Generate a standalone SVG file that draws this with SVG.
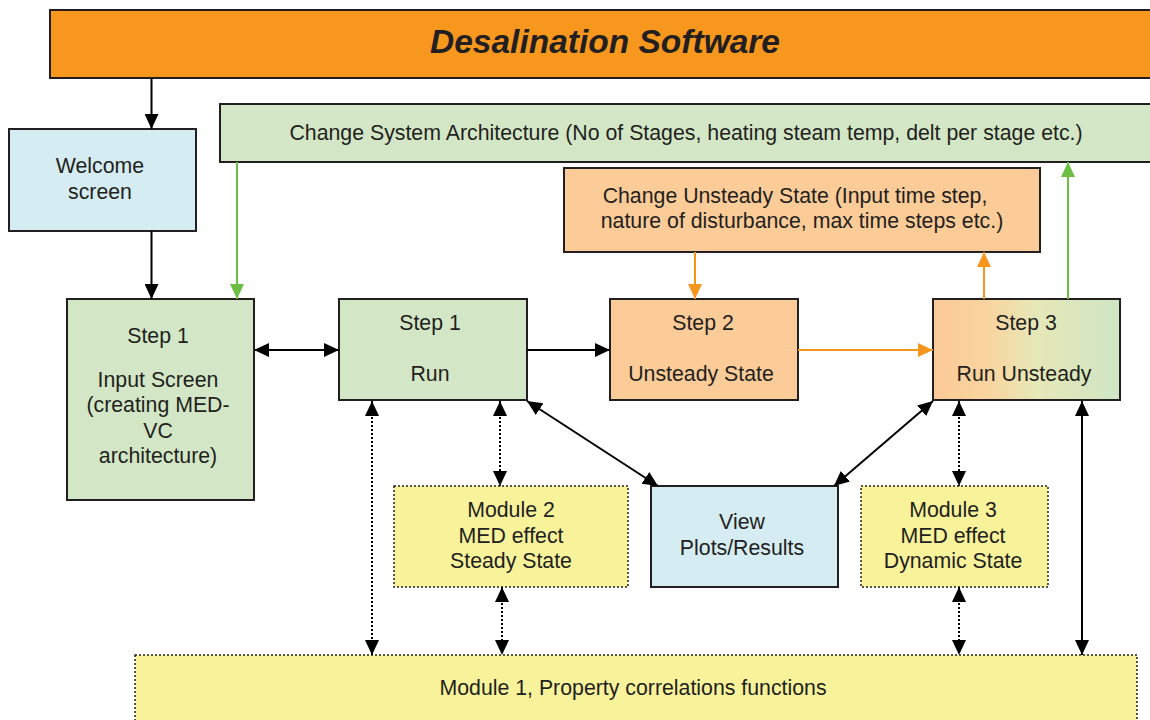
<svg xmlns="http://www.w3.org/2000/svg" width="1150" height="720" viewBox="0 0 1150 720">
<style>
text{font-family:"Liberation Sans",Arial,sans-serif;font-size:21.3px;fill:#231F20;text-anchor:middle}
.title{font-size:33.5px;font-weight:bold;font-style:italic}
.box{stroke:#231F20;stroke-width:2}
.mod{fill:#F8F39B;stroke:#231F20;stroke-width:1.5;stroke-dasharray:2 2}
.green{fill:#D3E7C7}
.blue{fill:#D5ECF3}
.orange{fill:#FBCB98}
.k{stroke:#000;stroke-width:2;fill:none}
.kd{stroke:#000;stroke-width:2;fill:none;stroke-dasharray:2 2}
.o{stroke:#F7961D;stroke-width:2;fill:none}
.g{stroke:#6CBD45;stroke-width:2;fill:none}
</style>
<defs>
<marker id="ak" viewBox="0 0 15 14" refX="15" refY="7" markerWidth="15" markerHeight="14" markerUnits="userSpaceOnUse" orient="auto-start-reverse"><path d="M0,0 L15,7 L0,14 z" fill="#000"/></marker>
<marker id="ao" viewBox="0 0 15 14" refX="15" refY="7" markerWidth="15" markerHeight="14" markerUnits="userSpaceOnUse" orient="auto-start-reverse"><path d="M0,0 L15,7 L0,14 z" fill="#F7961D"/></marker>
<marker id="ag" viewBox="0 0 15 14" refX="15" refY="7" markerWidth="15" markerHeight="14" markerUnits="userSpaceOnUse" orient="auto-start-reverse"><path d="M0,0 L15,7 L0,14 z" fill="#6CBD45"/></marker>
<linearGradient id="grad3" x1="0" y1="0" x2="1" y2="0">
<stop offset="0" stop-color="#FBCA98"/>
<stop offset="0.3" stop-color="#F9D49F"/>
<stop offset="0.55" stop-color="#E6E8B7"/>
<stop offset="1" stop-color="#CFE5C4"/>
</linearGradient>
</defs>

<g id="title">
<rect x="50" y="10" width="1115" height="68" fill="#F7971E" class="box"/>
<text x="605" y="53" class="title">Desalination Software</text>
</g>

<g id="change-system">
<rect x="220" y="104" width="945" height="58" class="box green"/>
<text x="686" y="140">Change System Architecture (No of Stages, heating steam temp, delt per stage etc.)</text>
</g>

<g id="welcome">
<rect x="9" y="129" width="187" height="102" class="box blue"/>
<text x="100" y="173">Welcome</text>
<text x="100" y="199">screen</text>
</g>

<g id="change-unsteady">
<rect x="564" y="168" width="476" height="84" class="box orange"/>
<text x="795" y="203">Change Unsteady State (Input time step,</text>
<text x="802" y="228">nature of disturbance, max time steps etc.)</text>
</g>

<g id="step1-input">
<rect x="67" y="299" width="187" height="201" class="box green"/>
<text x="158" y="343">Step 1</text>
<text x="158" y="387">Input Screen</text>
<text x="158" y="412">(creating MED-</text>
<text x="158" y="438">VC</text>
<text x="158" y="463">architecture)</text>
</g>

<g id="step1-run">
<rect x="339" y="299" width="188" height="101" class="box green"/>
<text x="430" y="330">Step 1</text>
<text x="430" y="381">Run</text>
</g>

<g id="step2">
<rect x="610" y="299" width="188" height="101" class="box orange"/>
<text x="703" y="330">Step 2</text>
<text x="701" y="381">Unsteady State</text>
</g>

<g id="step3">
<rect x="933" y="299" width="187" height="101" fill="url(#grad3)" class="box"/>
<text x="1026" y="330">Step 3</text>
<text x="1024" y="381">Run Unsteady</text>
</g>

<g id="view">
<rect x="651" y="486" width="187" height="101" class="box blue"/>
<text x="742" y="529">View</text>
<text x="742" y="555">Plots/Results</text>
</g>

<g id="module2">
<rect x="394" y="486" width="234" height="101" class="mod"/>
<text x="511" y="517">Module 2</text>
<text x="511" y="543">MED effect</text>
<text x="511" y="568">Steady State</text>
</g>

<g id="module3">
<rect x="861" y="486" width="187" height="101" class="mod"/>
<text x="953" y="517">Module 3</text>
<text x="953" y="543">MED effect</text>
<text x="953" y="568">Dynamic State</text>
</g>

<g id="module1">
<rect x="135" y="655" width="1002" height="75" class="mod"/>
<text x="633" y="695">Module 1, Property correlations functions</text>
</g>

<g id="connectors">
<line x1="151.5" y1="78" x2="151.5" y2="129" class="k" marker-end="url(#ak)"/>
<line x1="151.5" y1="231" x2="151.5" y2="299" class="k" marker-end="url(#ak)"/>
<line x1="237" y1="162" x2="237" y2="299" class="g" marker-end="url(#ag)"/>
<line x1="254" y1="350" x2="339" y2="350" class="k" marker-start="url(#ak)" marker-end="url(#ak)"/>
<line x1="527" y1="350" x2="610" y2="350" class="k" marker-end="url(#ak)"/>
<line x1="798" y1="350" x2="933" y2="350" class="o" marker-end="url(#ao)"/>
<line x1="695" y1="252" x2="695" y2="299" class="o" marker-end="url(#ao)"/>
<line x1="984" y1="299" x2="984" y2="252" class="o" marker-end="url(#ao)"/>
<line x1="1068" y1="299" x2="1068" y2="162" class="g" marker-end="url(#ag)"/>
<line x1="527" y1="401" x2="658" y2="486" class="k" marker-start="url(#ak)" marker-end="url(#ak)"/>
<line x1="933" y1="401" x2="834" y2="486" class="k" marker-start="url(#ak)" marker-end="url(#ak)"/>
<line x1="372" y1="401" x2="372" y2="655" class="kd" marker-start="url(#ak)" marker-end="url(#ak)"/>
<line x1="500" y1="401" x2="500" y2="486" class="kd" marker-start="url(#ak)" marker-end="url(#ak)"/>
<line x1="502" y1="587" x2="502" y2="655" class="kd" marker-start="url(#ak)" marker-end="url(#ak)"/>
<line x1="959" y1="401" x2="959" y2="486" class="kd" marker-start="url(#ak)" marker-end="url(#ak)"/>
<line x1="959" y1="587" x2="959" y2="655" class="kd" marker-start="url(#ak)" marker-end="url(#ak)"/>
<line x1="1082" y1="401" x2="1082" y2="655" class="k" marker-start="url(#ak)" marker-end="url(#ak)"/>
</g>
</svg>
